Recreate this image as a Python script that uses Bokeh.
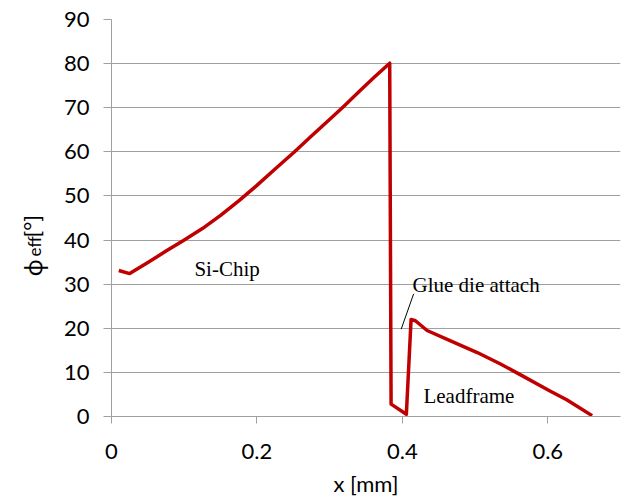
import math
from bokeh.plotting import figure
from bokeh.layouts import row
from bokeh.models import Range1d, FixedTicker, Label
from bokeh.embed import file_html
from bokeh.resources import INLINE

# data
x_mm = [0.010, 0.025, 0.050, 0.075, 0.099, 0.125, 0.150, 0.175, 0.200, 0.225,
        0.251, 0.275, 0.301, 0.320, 0.342, 0.362, 0.3826, 0.3845, 0.4055, 0.412,
        0.418, 0.434, 0.471, 0.503, 0.535, 0.562, 0.603, 0.626, 0.661]
phi_eff = [33.1, 32.4, 34.9, 37.5, 39.9, 42.6, 45.6, 48.9, 52.4, 56.1,
           59.9, 63.6, 67.5, 70.4, 73.9, 77.0, 80.1, 2.8, 0.5, 22.0,
           21.7, 19.5, 16.8, 14.5, 11.9, 9.5, 5.8, 3.8, 0.2]

x_ticks = [0, 0.2, 0.4, 0.6]
x_tick_labels = ["0", "0.2", "0.4", "0.6"]
y_ticks = [0, 10, 20, 30, 40, 50, 60, 70, 80, 90]

# annotations: (text, x, y)
annotations = [("Si-Chip", 0.114, 33.5),
               ("Glue die attach", 0.414, 29.7),
               ("Leadframe", 0.429, 4.7)]
leader = dict(x0=0.4155, y0=27.8, x1=0.3984, y1=19.8)

GRID = "#a0a0a0"
TICK_FONT = "Lato"
LEFT_W = 60
TOP, BOTTOM = 19, 88

# ---- main chart ----
p = figure(width=626 - LEFT_W, height=504, output_backend="svg", toolbar_location=None,
           x_range=Range1d(0, 0.7), y_range=Range1d(0, 90),
           min_border_left=111 - LEFT_W, min_border_right=6, min_border_top=TOP,
           min_border_bottom=BOTTOM)
p.outline_line_color = None
p.background_fill_color = "white"
p.border_fill_color = "white"

p.xgrid.visible = False
p.ygrid.ticker = FixedTicker(ticks=y_ticks)
p.ygrid.grid_line_color = GRID
p.ygrid.grid_line_width = 1

for ax in (p.xaxis[0], p.yaxis[0]):
    ax.axis_line_color = GRID
    ax.major_tick_line_color = GRID
    ax.minor_tick_line_color = None
    ax.major_tick_in = 0
    ax.major_label_text_font = TICK_FONT
    ax.major_label_text_font_size = "22px"
    ax.major_label_text_color = "#000000"

p.xaxis.ticker = FixedTicker(ticks=x_ticks)
p.xaxis.major_label_overrides = {t: l for t, l in zip(x_ticks, x_tick_labels)}
p.xaxis.major_tick_out = 7
p.xaxis.major_label_standoff = 20
p.xaxis.axis_label = "x [mm]"
p.xaxis.axis_label_text_font = TICK_FONT
p.xaxis.axis_label_text_font_size = "22px"
p.xaxis.axis_label_text_font_style = "normal"
p.xaxis.axis_label_text_color = "#000000"
p.xaxis.axis_label_standoff = 8

p.yaxis.ticker = FixedTicker(ticks=y_ticks)
p.yaxis.major_tick_out = 8
p.yaxis.major_label_standoff = 14

p.line(x_mm, phi_eff, line_color="#C00000", line_width=3.5, line_join="round")

for txt, xx, yy in annotations:
    p.add_layout(Label(x=xx, y=yy, text=txt, text_font="Liberation Serif",
                       text_font_size="21px", text_color="#000000",
                       text_baseline="alphabetic", text_align="left"))

p.segment(x0=[leader["x0"]], y0=[leader["y0"]], x1=[leader["x1"]], y1=[leader["y1"]],
          line_color="#000000", line_width=1)

# ---- y axis title strip: phi_eff [°], rotated (coordinates = page pixels) ----
t = figure(width=LEFT_W, height=504, output_backend="svg", toolbar_location=None,
           x_range=Range1d(0, LEFT_W), y_range=Range1d(504 - BOTTOM, TOP),
           x_axis_type=None, y_axis_type=None,
           min_border_left=0, min_border_right=0,
           min_border_top=TOP, min_border_bottom=BOTTOM)
t.outline_line_color = None
t.background_fill_color = "white"
t.border_fill_color = "white"

t.add_layout(Label(x=32, y=276, text="\u03d5", angle=math.pi / 2,
                   text_font="Noto Sans", text_font_size="24px",
                   text_baseline="alphabetic", text_align="left", text_color="#000000"))
t.add_layout(Label(x=34, y=256, text="eff", angle=math.pi / 2,
                   text_font=TICK_FONT, text_font_size="17px",
                   text_baseline="alphabetic", text_align="left", text_color="#000000"))
t.add_layout(Label(x=31, y=237, text="[°]", angle=math.pi / 2,
                   text_font=TICK_FONT, text_font_size="22px",
                   text_baseline="alphabetic", text_align="left", text_color="#000000"))

layout = row(t, p, spacing=0)
open("out.html", "w").write(file_html(layout, INLINE))
